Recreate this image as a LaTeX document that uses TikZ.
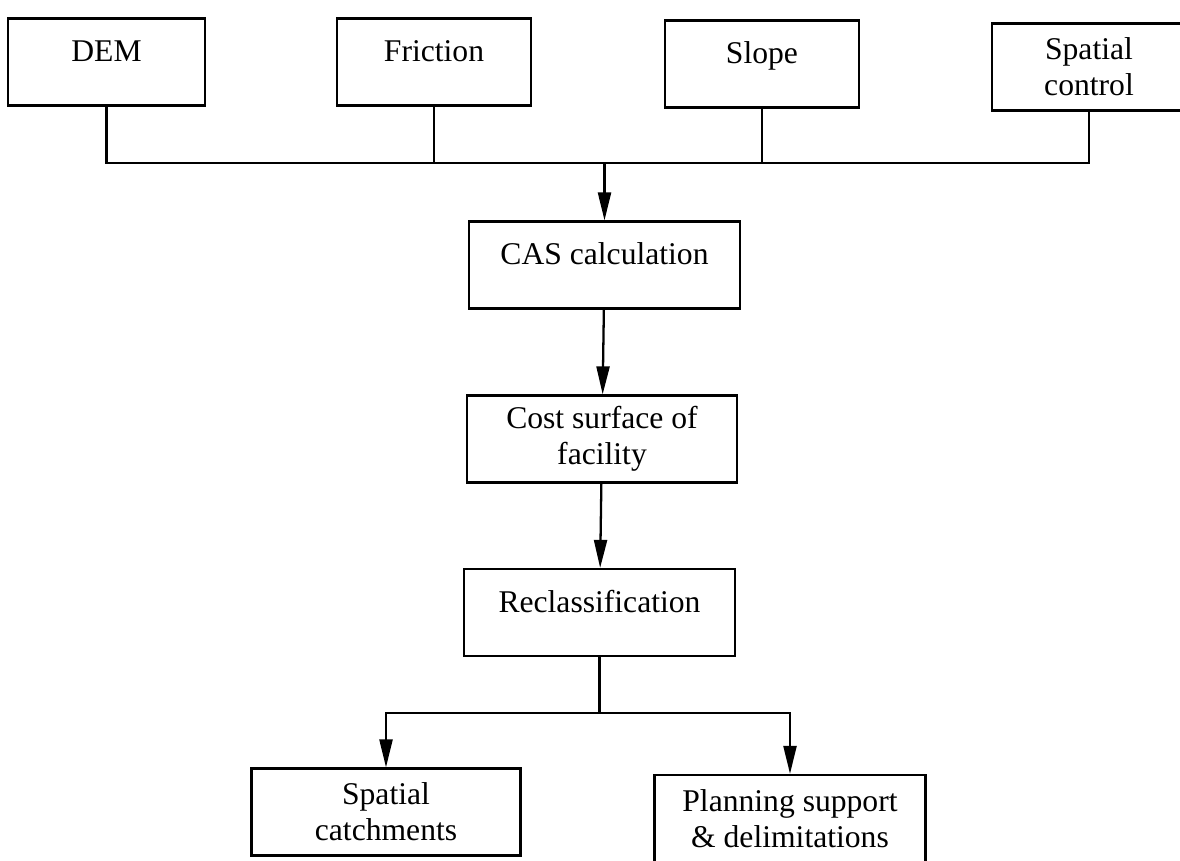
\documentclass[tikz,border=0pt]{standalone}
\usepackage{fontspec}
\setmainfont{Liberation Serif}
\usepackage{tikz}
\usetikzlibrary{arrows.meta}

\tikzset{
  box/.style={draw, line width=1.3pt, inner xsep=0pt, inner ysep=0pt,
    font=\fontsize{18}{20.4}\selectfont, align=center},
  onebox/.style={box, text height=24.5pt, text depth=25pt},
  twobox/.style={box, minimum height=49.5pt},
  link/.style={line width=1.3pt},
  flow/.style={line width=1.3pt, -{Triangle[length=5.6mm,width=2.6mm]}}
}

\begin{document}
\begin{tikzpicture}[x={(0.02cm,0)}, y={(0,-0.02cm)}]
   \useasboundingbox (0,0) rectangle (1180,860);
   % inputs
   \node[onebox, minimum width=3.94cm] (dem)      at (106.5,62) {DEM};
   \node[onebox, minimum width=3.88cm] (friction) at (434,62)   {Friction};
   \node[onebox, minimum width=3.88cm] (slope)    at (762,64)   {Slope};
   \node[twobox, minimum width=3.88cm] (control)  at (1089,67)  {Spatial\\control};
   % main chain
   \node[onebox, minimum width=5.42cm] (cas)  at (604.5,265) {CAS calculation};
   \node[twobox, minimum width=5.40cm] (cost) at (602,439)   {Cost surface of\\facility};
   \node[onebox, minimum width=5.42cm] (recl) at (599.5,612.5) {Reclassification};
   % outputs
   \node[twobox, minimum width=5.38cm] (catch) at (386,812)  {Spatial\\catchments};
   \node[twobox, minimum width=5.42cm] (plan)  at (790,818.5) {Planning support\\\& delimitations};

   \coordinate (join)  at (604.5,163);
   \coordinate (split) at (599.5,713);

   \draw[link] (dem.south) |- (control.south |- join) -- (control.south);
   \draw[link] (friction.south) -- (friction.south |- join);
   \draw[link] (slope.south) -- (slope.south |- join);
   \draw[flow] (join) -- (cas);
   \draw[flow] (cas) -- (cost);
   \draw[flow] (cost) -- (recl);
   \draw[link] (recl) -- (split);
   \draw[flow] (split) -| (catch);
   \draw[flow] (split) -| (plan);
\end{tikzpicture}
\end{document}
